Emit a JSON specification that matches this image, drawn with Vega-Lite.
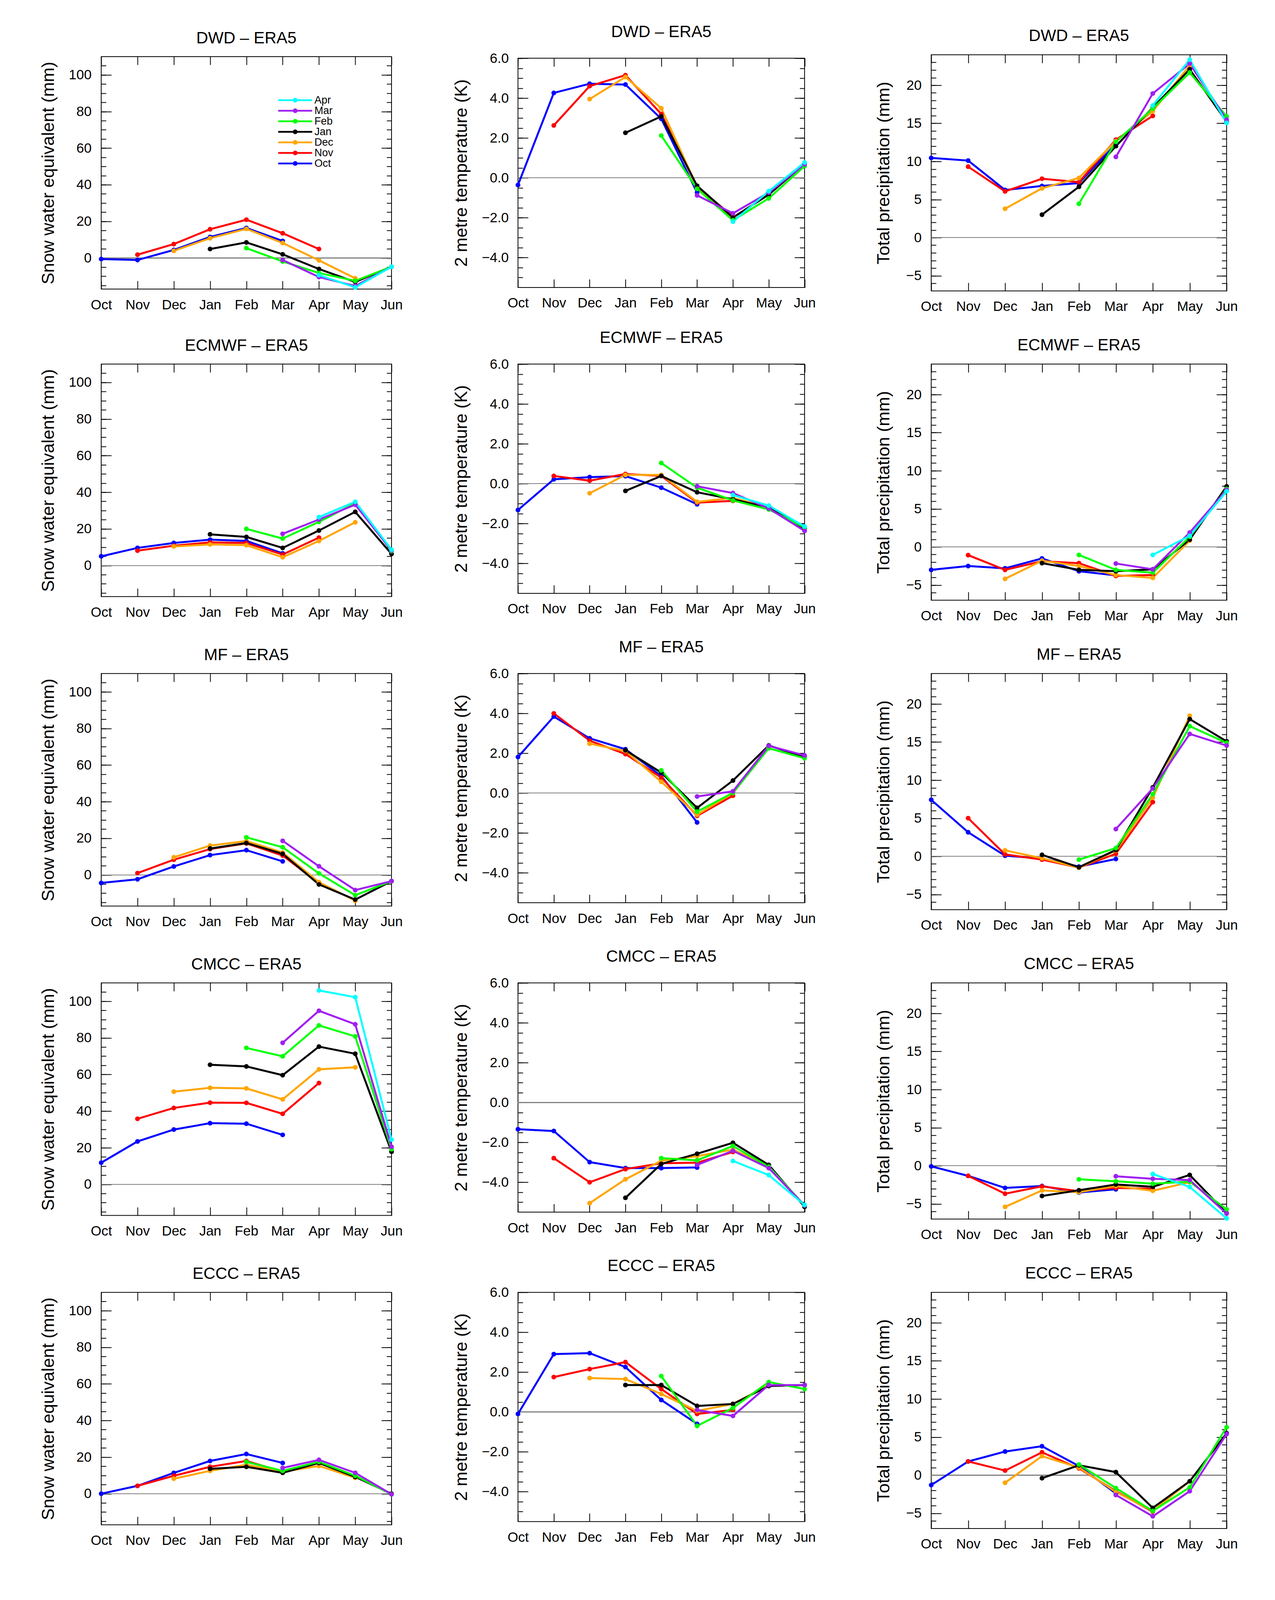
{
"$schema":"https://vega.github.io/schema/vega-lite/v6.json",
"background":"white",
"autosize":{"type":"pad"},
"padding":{"left":100,"top":59,"right":95,"bottom":44},
"columns":3,
"spacing":{"row":187.1,"column":323.6},
"bounds":"flush",
"align":"each",
"center":true,
"datasets":{
"DWD_swe":[{"l":"Oct","x":"Oct","y":-0.6},{"l":"Oct","x":"Nov","y":-1.1},{"l":"Oct","x":"Dec","y":4.4},{"l":"Oct","x":"Jan","y":11.5},{"l":"Oct","x":"Feb","y":16.4},{"l":"Oct","x":"Mar","y":9.3},{"l":"Nov","x":"Nov","y":1.8},{"l":"Nov","x":"Dec","y":7.6},{"l":"Nov","x":"Jan","y":15.7},{"l":"Nov","x":"Feb","y":20.9},{"l":"Nov","x":"Mar","y":13.5},{"l":"Nov","x":"Apr","y":4.9},{"l":"Dec","x":"Dec","y":3.9},{"l":"Dec","x":"Jan","y":10.8},{"l":"Dec","x":"Feb","y":15.9},{"l":"Dec","x":"Mar","y":8.2},{"l":"Dec","x":"Apr","y":-1.3},{"l":"Dec","x":"May","y":-11.1},{"l":"Jan","x":"Jan","y":4.9},{"l":"Jan","x":"Feb","y":8.5},{"l":"Jan","x":"Mar","y":2.0},{"l":"Jan","x":"Apr","y":-6.0},{"l":"Jan","x":"May","y":-13.1},{"l":"Jan","x":"Jun","y":-4.8},{"l":"Feb","x":"Feb","y":5.4},{"l":"Feb","x":"Mar","y":-1.9},{"l":"Feb","x":"Apr","y":-8.2},{"l":"Feb","x":"May","y":-12.5},{"l":"Feb","x":"Jun","y":-4.8},{"l":"Mar","x":"Mar","y":-1.1},{"l":"Mar","x":"Apr","y":-10.4},{"l":"Mar","x":"May","y":-15.3},{"l":"Mar","x":"Jun","y":-4.8},{"l":"Apr","x":"Apr","y":-9.4},{"l":"Apr","x":"May","y":-16.0},{"l":"Apr","x":"Jun","y":-4.8}],
"DWD_t2m":[{"l":"Oct","x":"Oct","y":-0.36},{"l":"Oct","x":"Nov","y":4.26},{"l":"Oct","x":"Dec","y":4.72},{"l":"Oct","x":"Jan","y":4.68},{"l":"Oct","x":"Feb","y":2.96},{"l":"Oct","x":"Mar","y":-0.74},{"l":"Nov","x":"Nov","y":2.63},{"l":"Nov","x":"Dec","y":4.6},{"l":"Nov","x":"Jan","y":5.15},{"l":"Nov","x":"Feb","y":3.2},{"l":"Nov","x":"Mar","y":-0.45},{"l":"Nov","x":"Apr","y":-1.94},{"l":"Dec","x":"Dec","y":3.95},{"l":"Dec","x":"Jan","y":5.06},{"l":"Dec","x":"Feb","y":3.49},{"l":"Dec","x":"Mar","y":-0.45},{"l":"Dec","x":"Apr","y":-1.99},{"l":"Dec","x":"May","y":-0.84},{"l":"Jan","x":"Jan","y":2.26},{"l":"Jan","x":"Feb","y":3.08},{"l":"Jan","x":"Mar","y":-0.4},{"l":"Jan","x":"Apr","y":-1.99},{"l":"Jan","x":"May","y":-0.84},{"l":"Jan","x":"Jun","y":0.7},{"l":"Feb","x":"Feb","y":2.12},{"l":"Feb","x":"Mar","y":-0.55},{"l":"Feb","x":"Apr","y":-2.13},{"l":"Feb","x":"May","y":-1.03},{"l":"Feb","x":"Jun","y":0.59},{"l":"Mar","x":"Mar","y":-0.88},{"l":"Mar","x":"Apr","y":-1.78},{"l":"Mar","x":"May","y":-0.74},{"l":"Mar","x":"Jun","y":0.68},{"l":"Apr","x":"Apr","y":-2.2},{"l":"Apr","x":"May","y":-0.67},{"l":"Apr","x":"Jun","y":0.77}],
"DWD_pr":[{"l":"Oct","x":"Oct","y":10.46},{"l":"Oct","x":"Nov","y":10.11},{"l":"Oct","x":"Dec","y":6.25},{"l":"Oct","x":"Jan","y":6.78},{"l":"Oct","x":"Feb","y":7.15},{"l":"Oct","x":"Mar","y":12.3},{"l":"Nov","x":"Nov","y":9.31},{"l":"Nov","x":"Dec","y":6.07},{"l":"Nov","x":"Jan","y":7.73},{"l":"Nov","x":"Feb","y":7.28},{"l":"Nov","x":"Mar","y":12.85},{"l":"Nov","x":"Apr","y":15.98},{"l":"Dec","x":"Dec","y":3.79},{"l":"Dec","x":"Jan","y":6.47},{"l":"Dec","x":"Feb","y":7.83},{"l":"Dec","x":"Mar","y":12.67},{"l":"Dec","x":"Apr","y":16.6},{"l":"Dec","x":"May","y":22.6},{"l":"Jan","x":"Jan","y":3.01},{"l":"Jan","x":"Feb","y":6.67},{"l":"Jan","x":"Mar","y":12.0},{"l":"Jan","x":"Apr","y":17.06},{"l":"Jan","x":"May","y":22.1},{"l":"Jan","x":"Jun","y":15.2},{"l":"Feb","x":"Feb","y":4.44},{"l":"Feb","x":"Mar","y":12.57},{"l":"Feb","x":"Apr","y":16.94},{"l":"Feb","x":"May","y":21.66},{"l":"Feb","x":"Jun","y":15.9},{"l":"Mar","x":"Mar","y":10.59},{"l":"Mar","x":"Apr","y":18.92},{"l":"Mar","x":"May","y":22.84},{"l":"Mar","x":"Jun","y":15.48},{"l":"Apr","x":"Apr","y":17.34},{"l":"Apr","x":"May","y":23.36},{"l":"Apr","x":"Jun","y":15.06}],
"ECMWF_swe":[{"l":"Oct","x":"Oct","y":5.0},{"l":"Oct","x":"Nov","y":9.6},{"l":"Oct","x":"Dec","y":12.3},{"l":"Oct","x":"Jan","y":14.1},{"l":"Oct","x":"Feb","y":13.4},{"l":"Oct","x":"Mar","y":6.6},{"l":"Nov","x":"Nov","y":8.1},{"l":"Nov","x":"Dec","y":10.8},{"l":"Nov","x":"Jan","y":12.6},{"l":"Nov","x":"Feb","y":12.3},{"l":"Nov","x":"Mar","y":6.0},{"l":"Nov","x":"Apr","y":15.2},{"l":"Dec","x":"Dec","y":10.4},{"l":"Dec","x":"Jan","y":11.5},{"l":"Dec","x":"Feb","y":11.1},{"l":"Dec","x":"Mar","y":4.5},{"l":"Dec","x":"Apr","y":13.4},{"l":"Dec","x":"May","y":23.6},{"l":"Jan","x":"Jan","y":17.0},{"l":"Jan","x":"Feb","y":15.6},{"l":"Jan","x":"Mar","y":9.6},{"l":"Jan","x":"Apr","y":19.1},{"l":"Jan","x":"May","y":29.3},{"l":"Jan","x":"Jun","y":6.3},{"l":"Feb","x":"Feb","y":20.0},{"l":"Feb","x":"Mar","y":14.7},{"l":"Feb","x":"Apr","y":23.8},{"l":"Feb","x":"May","y":34.0},{"l":"Feb","x":"Jun","y":7.9},{"l":"Mar","x":"Mar","y":17.3},{"l":"Mar","x":"Apr","y":25.1},{"l":"Mar","x":"May","y":33.2},{"l":"Mar","x":"Jun","y":8.2},{"l":"Apr","x":"Apr","y":26.4},{"l":"Apr","x":"May","y":34.8},{"l":"Apr","x":"Jun","y":8.6}],
"ECMWF_t2m":[{"l":"Oct","x":"Oct","y":-1.32},{"l":"Oct","x":"Nov","y":0.22},{"l":"Oct","x":"Dec","y":0.33},{"l":"Oct","x":"Jan","y":0.38},{"l":"Oct","x":"Feb","y":-0.2},{"l":"Oct","x":"Mar","y":-1.03},{"l":"Nov","x":"Nov","y":0.39},{"l":"Nov","x":"Dec","y":0.15},{"l":"Nov","x":"Jan","y":0.49},{"l":"Nov","x":"Feb","y":0.39},{"l":"Nov","x":"Mar","y":-0.95},{"l":"Nov","x":"Apr","y":-0.86},{"l":"Dec","x":"Dec","y":-0.48},{"l":"Dec","x":"Jan","y":0.44},{"l":"Dec","x":"Feb","y":0.44},{"l":"Dec","x":"Mar","y":-0.91},{"l":"Dec","x":"Apr","y":-0.71},{"l":"Dec","x":"May","y":-1.19},{"l":"Jan","x":"Jan","y":-0.36},{"l":"Jan","x":"Feb","y":0.39},{"l":"Jan","x":"Mar","y":-0.43},{"l":"Jan","x":"Apr","y":-0.78},{"l":"Jan","x":"May","y":-1.21},{"l":"Jan","x":"Jun","y":-2.25},{"l":"Feb","x":"Feb","y":1.04},{"l":"Feb","x":"Mar","y":-0.2},{"l":"Feb","x":"Apr","y":-0.84},{"l":"Feb","x":"May","y":-1.29},{"l":"Feb","x":"Jun","y":-2.2},{"l":"Mar","x":"Mar","y":-0.13},{"l":"Mar","x":"Apr","y":-0.47},{"l":"Mar","x":"May","y":-1.24},{"l":"Mar","x":"Jun","y":-2.37},{"l":"Apr","x":"Apr","y":-0.57},{"l":"Apr","x":"May","y":-1.1},{"l":"Apr","x":"Jun","y":-2.15}],
"ECMWF_pr":[{"l":"Oct","x":"Oct","y":-3.01},{"l":"Oct","x":"Nov","y":-2.51},{"l":"Oct","x":"Dec","y":-2.81},{"l":"Oct","x":"Jan","y":-1.51},{"l":"Oct","x":"Feb","y":-3.19},{"l":"Oct","x":"Mar","y":-3.74},{"l":"Nov","x":"Nov","y":-1.08},{"l":"Nov","x":"Dec","y":-3.01},{"l":"Nov","x":"Jan","y":-1.88},{"l":"Nov","x":"Feb","y":-2.13},{"l":"Nov","x":"Mar","y":-3.81},{"l":"Nov","x":"Apr","y":-3.69},{"l":"Dec","x":"Dec","y":-4.19},{"l":"Dec","x":"Jan","y":-1.81},{"l":"Dec","x":"Feb","y":-2.51},{"l":"Dec","x":"Mar","y":-3.69},{"l":"Dec","x":"Apr","y":-4.07},{"l":"Dec","x":"May","y":0.83},{"l":"Jan","x":"Jan","y":-2.13},{"l":"Jan","x":"Feb","y":-3.01},{"l":"Jan","x":"Mar","y":-3.19},{"l":"Jan","x":"Apr","y":-2.94},{"l":"Jan","x":"May","y":0.95},{"l":"Jan","x":"Jun","y":7.95},{"l":"Feb","x":"Feb","y":-1.05},{"l":"Feb","x":"Mar","y":-3.01},{"l":"Feb","x":"Apr","y":-3.39},{"l":"Feb","x":"May","y":1.33},{"l":"Feb","x":"Jun","y":7.6},{"l":"Mar","x":"Mar","y":-2.18},{"l":"Mar","x":"Apr","y":-2.94},{"l":"Mar","x":"May","y":1.88},{"l":"Mar","x":"Jun","y":7.48},{"l":"Apr","x":"Apr","y":-1.05},{"l":"Apr","x":"May","y":1.46},{"l":"Apr","x":"Jun","y":7.3}],
"MF_swe":[{"l":"Oct","x":"Oct","y":-4.4},{"l":"Oct","x":"Nov","y":-2.4},{"l":"Oct","x":"Dec","y":4.6},{"l":"Oct","x":"Jan","y":10.8},{"l":"Oct","x":"Feb","y":13.5},{"l":"Oct","x":"Mar","y":7.4},{"l":"Nov","x":"Nov","y":1.0},{"l":"Nov","x":"Dec","y":8.3},{"l":"Nov","x":"Jan","y":14.1},{"l":"Nov","x":"Feb","y":17.2},{"l":"Nov","x":"Mar","y":10.6},{"l":"Nov","x":"Apr","y":-4.6},{"l":"Dec","x":"Dec","y":9.6},{"l":"Dec","x":"Jan","y":16.0},{"l":"Dec","x":"Feb","y":18.5},{"l":"Dec","x":"Mar","y":12.2},{"l":"Dec","x":"Apr","y":-4.0},{"l":"Dec","x":"May","y":-14.1},{"l":"Jan","x":"Jan","y":14.4},{"l":"Jan","x":"Feb","y":17.4},{"l":"Jan","x":"Mar","y":11.5},{"l":"Jan","x":"Apr","y":-5.2},{"l":"Jan","x":"May","y":-13.5},{"l":"Jan","x":"Jun","y":-3.4},{"l":"Feb","x":"Feb","y":20.5},{"l":"Feb","x":"Mar","y":15.1},{"l":"Feb","x":"Apr","y":0.8},{"l":"Feb","x":"May","y":-11.1},{"l":"Feb","x":"Jun","y":-3.4},{"l":"Mar","x":"Mar","y":18.6},{"l":"Mar","x":"Apr","y":4.7},{"l":"Mar","x":"May","y":-8.3},{"l":"Mar","x":"Jun","y":-3.4}],
"MF_t2m":[{"l":"Oct","x":"Oct","y":1.81},{"l":"Oct","x":"Nov","y":3.84},{"l":"Oct","x":"Dec","y":2.75},{"l":"Oct","x":"Jan","y":2.2},{"l":"Oct","x":"Feb","y":0.86},{"l":"Oct","x":"Mar","y":-1.47},{"l":"Nov","x":"Nov","y":4.0},{"l":"Nov","x":"Dec","y":2.63},{"l":"Nov","x":"Jan","y":1.96},{"l":"Nov","x":"Feb","y":0.78},{"l":"Nov","x":"Mar","y":-1.14},{"l":"Nov","x":"Apr","y":-0.13},{"l":"Dec","x":"Dec","y":2.48},{"l":"Dec","x":"Jan","y":2.11},{"l":"Dec","x":"Feb","y":0.57},{"l":"Dec","x":"Mar","y":-1.09},{"l":"Dec","x":"Apr","y":0.0},{"l":"Dec","x":"May","y":2.3},{"l":"Jan","x":"Jan","y":2.15},{"l":"Jan","x":"Feb","y":1.03},{"l":"Jan","x":"Mar","y":-0.74},{"l":"Jan","x":"Apr","y":0.63},{"l":"Jan","x":"May","y":2.39},{"l":"Jan","x":"Jun","y":1.8},{"l":"Feb","x":"Feb","y":1.14},{"l":"Feb","x":"Mar","y":-0.93},{"l":"Feb","x":"Apr","y":0.01},{"l":"Feb","x":"May","y":2.25},{"l":"Feb","x":"Jun","y":1.75},{"l":"Mar","x":"Mar","y":-0.17},{"l":"Mar","x":"Apr","y":0.09},{"l":"Mar","x":"May","y":2.37},{"l":"Mar","x":"Jun","y":1.89}],
"MF_pr":[{"l":"Oct","x":"Oct","y":7.42},{"l":"Oct","x":"Nov","y":3.16},{"l":"Oct","x":"Dec","y":0.08},{"l":"Oct","x":"Jan","y":-0.28},{"l":"Oct","x":"Feb","y":-1.35},{"l":"Oct","x":"Mar","y":-0.35},{"l":"Nov","x":"Nov","y":5.01},{"l":"Nov","x":"Dec","y":0.25},{"l":"Nov","x":"Jan","y":-0.43},{"l":"Nov","x":"Feb","y":-1.48},{"l":"Nov","x":"Mar","y":0.33},{"l":"Nov","x":"Apr","y":7.12},{"l":"Dec","x":"Dec","y":0.78},{"l":"Dec","x":"Jan","y":-0.25},{"l":"Dec","x":"Feb","y":-1.5},{"l":"Dec","x":"Mar","y":0.75},{"l":"Dec","x":"Apr","y":7.69},{"l":"Dec","x":"May","y":18.45},{"l":"Jan","x":"Jan","y":0.2},{"l":"Jan","x":"Feb","y":-1.43},{"l":"Jan","x":"Mar","y":0.83},{"l":"Jan","x":"Apr","y":9.05},{"l":"Jan","x":"May","y":18.02},{"l":"Jan","x":"Jun","y":15.09},{"l":"Feb","x":"Feb","y":-0.43},{"l":"Feb","x":"Mar","y":1.08},{"l":"Feb","x":"Apr","y":8.15},{"l":"Feb","x":"May","y":17.09},{"l":"Feb","x":"Jun","y":14.9},{"l":"Mar","x":"Mar","y":3.58},{"l":"Mar","x":"Apr","y":8.92},{"l":"Mar","x":"May","y":16.07},{"l":"Mar","x":"Jun","y":14.54}],
"CMCC_swe":[{"l":"Oct","x":"Oct","y":11.8},{"l":"Oct","x":"Nov","y":23.4},{"l":"Oct","x":"Dec","y":29.9},{"l":"Oct","x":"Jan","y":33.4},{"l":"Oct","x":"Feb","y":33.1},{"l":"Oct","x":"Mar","y":27.0},{"l":"Nov","x":"Nov","y":35.8},{"l":"Nov","x":"Dec","y":41.7},{"l":"Nov","x":"Jan","y":44.6},{"l":"Nov","x":"Feb","y":44.5},{"l":"Nov","x":"Mar","y":38.5},{"l":"Nov","x":"Apr","y":55.3},{"l":"Dec","x":"Dec","y":50.6},{"l":"Dec","x":"Jan","y":52.7},{"l":"Dec","x":"Feb","y":52.4},{"l":"Dec","x":"Mar","y":46.4},{"l":"Dec","x":"Apr","y":62.8},{"l":"Dec","x":"May","y":63.9},{"l":"Jan","x":"Jan","y":65.3},{"l":"Jan","x":"Feb","y":64.4},{"l":"Jan","x":"Mar","y":59.6},{"l":"Jan","x":"Apr","y":75.2},{"l":"Jan","x":"May","y":71.3},{"l":"Jan","x":"Jun","y":17.8},{"l":"Feb","x":"Feb","y":74.5},{"l":"Feb","x":"Mar","y":69.9},{"l":"Feb","x":"Apr","y":86.8},{"l":"Feb","x":"May","y":80.8},{"l":"Feb","x":"Jun","y":19.2},{"l":"Mar","x":"Mar","y":77.3},{"l":"Mar","x":"Apr","y":94.8},{"l":"Mar","x":"May","y":87.4},{"l":"Mar","x":"Jun","y":20.5},{"l":"Apr","x":"Apr","y":105.9},{"l":"Apr","x":"May","y":102.2},{"l":"Apr","x":"Jun","y":24.4}],
"CMCC_t2m":[{"l":"Oct","x":"Oct","y":-1.34},{"l":"Oct","x":"Nov","y":-1.43},{"l":"Oct","x":"Dec","y":-2.99},{"l":"Oct","x":"Jan","y":-3.29},{"l":"Oct","x":"Feb","y":-3.29},{"l":"Oct","x":"Mar","y":-3.26},{"l":"Nov","x":"Nov","y":-2.79},{"l":"Nov","x":"Dec","y":-4.0},{"l":"Nov","x":"Jan","y":-3.34},{"l":"Nov","x":"Feb","y":-3.05},{"l":"Nov","x":"Mar","y":-3.02},{"l":"Nov","x":"Apr","y":-2.48},{"l":"Dec","x":"Dec","y":-5.05},{"l":"Dec","x":"Jan","y":-3.85},{"l":"Dec","x":"Feb","y":-2.92},{"l":"Dec","x":"Mar","y":-2.69},{"l":"Dec","x":"Apr","y":-2.36},{"l":"Dec","x":"May","y":-3.19},{"l":"Jan","x":"Jan","y":-4.78},{"l":"Jan","x":"Feb","y":-3.08},{"l":"Jan","x":"Mar","y":-2.57},{"l":"Jan","x":"Apr","y":-2.02},{"l":"Jan","x":"May","y":-3.13},{"l":"Jan","x":"Jun","y":-5.23},{"l":"Feb","x":"Feb","y":-2.79},{"l":"Feb","x":"Mar","y":-2.9},{"l":"Feb","x":"Apr","y":-2.18},{"l":"Feb","x":"May","y":-3.22},{"l":"Feb","x":"Jun","y":-5.16},{"l":"Mar","x":"Mar","y":-3.13},{"l":"Mar","x":"Apr","y":-2.42},{"l":"Mar","x":"May","y":-3.29},{"l":"Mar","x":"Jun","y":-5.16},{"l":"Apr","x":"Apr","y":-2.93},{"l":"Apr","x":"May","y":-3.64},{"l":"Apr","x":"Jun","y":-5.14}],
"CMCC_pr":[{"l":"Oct","x":"Oct","y":-0.08},{"l":"Oct","x":"Nov","y":-1.33},{"l":"Oct","x":"Dec","y":-2.91},{"l":"Oct","x":"Jan","y":-2.66},{"l":"Oct","x":"Feb","y":-3.52},{"l":"Oct","x":"Mar","y":-3.09},{"l":"Nov","x":"Nov","y":-1.33},{"l":"Nov","x":"Dec","y":-3.67},{"l":"Nov","x":"Jan","y":-2.71},{"l":"Nov","x":"Feb","y":-3.34},{"l":"Nov","x":"Mar","y":-2.91},{"l":"Nov","x":"Apr","y":-3.02},{"l":"Dec","x":"Dec","y":-5.4},{"l":"Dec","x":"Jan","y":-3.24},{"l":"Dec","x":"Feb","y":-3.47},{"l":"Dec","x":"Mar","y":-2.66},{"l":"Dec","x":"Apr","y":-3.29},{"l":"Dec","x":"May","y":-2.16},{"l":"Jan","x":"Jan","y":-3.97},{"l":"Jan","x":"Feb","y":-3.22},{"l":"Jan","x":"Mar","y":-2.46},{"l":"Jan","x":"Apr","y":-2.76},{"l":"Jan","x":"May","y":-1.21},{"l":"Jan","x":"Jun","y":-6.23},{"l":"Feb","x":"Feb","y":-1.78},{"l":"Feb","x":"Mar","y":-2.04},{"l":"Feb","x":"Apr","y":-2.36},{"l":"Feb","x":"May","y":-2.09},{"l":"Feb","x":"Jun","y":-5.73},{"l":"Mar","x":"Mar","y":-1.38},{"l":"Mar","x":"Apr","y":-1.71},{"l":"Mar","x":"May","y":-1.88},{"l":"Mar","x":"Jun","y":-6.28},{"l":"Apr","x":"Apr","y":-1.08},{"l":"Apr","x":"May","y":-2.79},{"l":"Apr","x":"Jun","y":-6.91}],
"ECCC_swe":[{"l":"Oct","x":"Oct","y":0.0},{"l":"Oct","x":"Nov","y":4.3},{"l":"Oct","x":"Dec","y":11.4},{"l":"Oct","x":"Jan","y":17.9},{"l":"Oct","x":"Feb","y":21.7},{"l":"Oct","x":"Mar","y":16.8},{"l":"Nov","x":"Nov","y":4.3},{"l":"Nov","x":"Dec","y":9.8},{"l":"Nov","x":"Jan","y":14.7},{"l":"Nov","x":"Feb","y":17.9},{"l":"Nov","x":"Mar","y":12.0},{"l":"Nov","x":"Apr","y":17.4},{"l":"Dec","x":"Dec","y":8.2},{"l":"Dec","x":"Jan","y":12.5},{"l":"Dec","x":"Feb","y":15.8},{"l":"Dec","x":"Mar","y":12.0},{"l":"Dec","x":"Apr","y":15.2},{"l":"Dec","x":"May","y":8.7},{"l":"Jan","x":"Jan","y":13.6},{"l":"Jan","x":"Feb","y":14.7},{"l":"Jan","x":"Mar","y":11.4},{"l":"Jan","x":"Apr","y":16.8},{"l":"Jan","x":"May","y":9.2},{"l":"Jan","x":"Jun","y":0.0},{"l":"Feb","x":"Feb","y":17.4},{"l":"Feb","x":"Mar","y":12.5},{"l":"Feb","x":"Apr","y":17.4},{"l":"Feb","x":"May","y":9.8},{"l":"Feb","x":"Jun","y":-0.3},{"l":"Mar","x":"Mar","y":14.1},{"l":"Mar","x":"Apr","y":18.5},{"l":"Mar","x":"May","y":11.4},{"l":"Mar","x":"Jun","y":-0.3}],
"ECCC_t2m":[{"l":"Oct","x":"Oct","y":-0.1},{"l":"Oct","x":"Nov","y":2.9},{"l":"Oct","x":"Dec","y":2.95},{"l":"Oct","x":"Jan","y":2.25},{"l":"Oct","x":"Feb","y":0.6},{"l":"Oct","x":"Mar","y":-0.6},{"l":"Nov","x":"Nov","y":1.75},{"l":"Nov","x":"Dec","y":2.15},{"l":"Nov","x":"Jan","y":2.5},{"l":"Nov","x":"Feb","y":1.15},{"l":"Nov","x":"Mar","y":-0.1},{"l":"Nov","x":"Apr","y":0.1},{"l":"Dec","x":"Dec","y":1.7},{"l":"Dec","x":"Jan","y":1.65},{"l":"Dec","x":"Feb","y":0.9},{"l":"Dec","x":"Mar","y":0.05},{"l":"Dec","x":"Apr","y":0.4},{"l":"Dec","x":"May","y":1.35},{"l":"Jan","x":"Jan","y":1.35},{"l":"Jan","x":"Feb","y":1.35},{"l":"Jan","x":"Mar","y":0.3},{"l":"Jan","x":"Apr","y":0.4},{"l":"Jan","x":"May","y":1.3},{"l":"Jan","x":"Jun","y":1.35},{"l":"Feb","x":"Feb","y":1.8},{"l":"Feb","x":"Mar","y":-0.7},{"l":"Feb","x":"Apr","y":0.2},{"l":"Feb","x":"May","y":1.5},{"l":"Feb","x":"Jun","y":1.15},{"l":"Mar","x":"Mar","y":0.1},{"l":"Mar","x":"Apr","y":-0.2},{"l":"Mar","x":"May","y":1.35},{"l":"Mar","x":"Jun","y":1.35}],
"ECCC_pr":[{"l":"Oct","x":"Oct","y":-1.3},{"l":"Oct","x":"Nov","y":1.8},{"l":"Oct","x":"Dec","y":3.1},{"l":"Oct","x":"Jan","y":3.8},{"l":"Oct","x":"Feb","y":1.2},{"l":"Oct","x":"Mar","y":-2.4},{"l":"Nov","x":"Nov","y":1.8},{"l":"Nov","x":"Dec","y":0.6},{"l":"Nov","x":"Jan","y":3.0},{"l":"Nov","x":"Feb","y":0.9},{"l":"Nov","x":"Mar","y":-2.1},{"l":"Nov","x":"Apr","y":-4.8},{"l":"Dec","x":"Dec","y":-1.0},{"l":"Dec","x":"Jan","y":2.5},{"l":"Dec","x":"Feb","y":1.0},{"l":"Dec","x":"Mar","y":-2.2},{"l":"Dec","x":"Apr","y":-4.7},{"l":"Dec","x":"May","y":-0.8},{"l":"Jan","x":"Jan","y":-0.4},{"l":"Jan","x":"Feb","y":1.3},{"l":"Jan","x":"Mar","y":0.4},{"l":"Jan","x":"Apr","y":-4.3},{"l":"Jan","x":"May","y":-0.8},{"l":"Jan","x":"Jun","y":5.5},{"l":"Feb","x":"Feb","y":1.4},{"l":"Feb","x":"Mar","y":-1.7},{"l":"Feb","x":"Apr","y":-4.7},{"l":"Feb","x":"May","y":-1.6},{"l":"Feb","x":"Jun","y":6.3},{"l":"Mar","x":"Mar","y":-2.6},{"l":"Mar","x":"Apr","y":-5.4},{"l":"Mar","x":"May","y":-2.1},{"l":"Mar","x":"Jun","y":5.4}]
},
"concat":[
{"width":743,"height":595.2,"data":{"name":"DWD_swe"},"title":{"text":"DWD – ERA5","offset":24.3},
"layer":[
{"mark":{"type":"rule","color":"#808080","strokeWidth":1.5},"encoding":{"y":{"datum":0,"type":"quantitative","axis":null}}},
{"mark":{"type":"point","opacity":0},"encoding":{"x":{"field":"x","type":"ordinal","sort":["Oct","Nov","Dec","Jan","Feb","Mar","Apr","May","Jun"],"axis":null},"y":{"field":"y","type":"quantitative","axis":{"orient":"left","values":[-15,-10,-5,0,5,10,15,20,25,30,35,40,45,50,55,60,65,70,75,80,85,90,95,100,105],"labels":false,"title":null,"tickSize":-12.5}}}},
{"mark":{"type":"point","opacity":0},"encoding":{"x":{"field":"x","type":"ordinal","sort":["Oct","Nov","Dec","Jan","Feb","Mar","Apr","May","Jun"],"axis":null},"y":{"field":"y","type":"quantitative","axis":{"orient":"right","values":[-15,-10,-5,0,5,10,15,20,25,30,35,40,45,50,55,60,65,70,75,80,85,90,95,100,105],"labels":false,"title":null,"tickSize":-12.5}}}},
{"mark":{"type":"line","strokeWidth":5},"encoding":{
"x":{"field":"x","type":"ordinal","sort":["Oct","Nov","Dec","Jan","Feb","Mar","Apr","May","Jun"],"scale":{"type":"point","padding":0,"domain":["Oct","Nov","Dec","Jan","Feb","Mar","Apr","May","Jun"]},"axis":{"orient":"bottom","title":null,"labelAngle":0,"labelAlign":"center","labelBaseline":"top","tickSize":-21,"labelPadding":44}},
"y":{"field":"y","type":"quantitative","scale":{"domain":[-17,110],"nice":false,"zero":false},"axis":{"orient":"left","values":[0,20,40,60,80,100],"format":"d","tickSize":-26,"labelPadding":51,"title":"Snow water equivalent (mm)","titleX":-112.6}},
"color":{"field":"l","type":"nominal","scale":{"domain":["Apr","Mar","Feb","Jan","Dec","Nov","Oct"],"range":["#00FFFF","#A020F0","#00FF00","#000000","#FFA500","#FF0000","#0000FF"]},
"legend":{"orient":"none","legendX":483,"legendY":103,"title":null,"symbolType":"M-4,-0.2L4,-0.2L4,0.2L-4,0.2Z M0.55,0A0.55,0.55 0 1,1 -0.55,0A0.55,0.55 0 1,1 0.55,0Z","symbolSize":473,"symbolStrokeWidth":0,"labelFontSize":27,"labelOffset":35.75,"rowPadding":-3.4,"encode":{"symbols":{"update":{"fill":{"scale":"color","field":"value"},"stroke":{"value":"transparent"}}}}}}}},
{"mark":{"type":"point","filled":true,"size":150,"opacity":1},"encoding":{
"x":{"field":"x","type":"ordinal","sort":["Oct","Nov","Dec","Jan","Feb","Mar","Apr","May","Jun"],"axis":{"orient":"top","title":null,"labels":false,"tickSize":-21}},
"y":{"field":"y","type":"quantitative","axis":{"orient":"right","values":[0,20,40,60,80,100],"labels":false,"title":null,"tickSize":-26}},
"color":{"field":"l","type":"nominal","scale":{"domain":["Apr","Mar","Feb","Jan","Dec","Nov","Oct"],"range":["#00FFFF","#A020F0","#00FF00","#000000","#FFA500","#FF0000","#0000FF"]}}}}
],"resolve":{"axis":{"x":"independent","y":"independent"}}},
{"width":733.5,"height":586.8,"data":{"name":"DWD_t2m"},"title":{"text":"DWD – ERA5","offset":28.5},
"layer":[
{"mark":{"type":"rule","color":"#808080","strokeWidth":1.5},"encoding":{"y":{"datum":0,"type":"quantitative","axis":null}}},
{"mark":{"type":"point","opacity":0},"encoding":{"x":{"field":"x","type":"ordinal","sort":["Oct","Nov","Dec","Jan","Feb","Mar","Apr","May","Jun"],"axis":null},"y":{"field":"y","type":"quantitative","axis":{"orient":"left","values":[-5,-4.5,-4,-3.5,-3,-2.5,-2,-1.5,-1,-0.5,0,0.5,1,1.5,2,2.5,3,3.5,4,4.5,5,5.5,6],"labels":false,"title":null,"tickSize":-12.5}}}},
{"mark":{"type":"point","opacity":0},"encoding":{"x":{"field":"x","type":"ordinal","sort":["Oct","Nov","Dec","Jan","Feb","Mar","Apr","May","Jun"],"axis":null},"y":{"field":"y","type":"quantitative","axis":{"orient":"right","values":[-5,-4.5,-4,-3.5,-3,-2.5,-2,-1.5,-1,-0.5,0,0.5,1,1.5,2,2.5,3,3.5,4,4.5,5,5.5,6],"labels":false,"title":null,"tickSize":-12.5}}}},
{"mark":{"type":"line","strokeWidth":5},"encoding":{
"x":{"field":"x","type":"ordinal","sort":["Oct","Nov","Dec","Jan","Feb","Mar","Apr","May","Jun"],"scale":{"type":"point","padding":0,"domain":["Oct","Nov","Dec","Jan","Feb","Mar","Apr","May","Jun"]},"axis":{"orient":"bottom","title":null,"labelAngle":0,"labelAlign":"center","labelBaseline":"top","tickSize":-21,"labelPadding":44}},
"y":{"field":"y","type":"quantitative","scale":{"domain":[-5.5,6],"nice":false,"zero":false},"axis":{"orient":"left","values":[-4,-2,0,2,4,6],"format":".1f","tickSize":-26,"labelPadding":50,"title":"2 metre temperature (K)","titleX":-122.5}},
"color":{"field":"l","type":"nominal","scale":{"domain":["Apr","Mar","Feb","Jan","Dec","Nov","Oct"],"range":["#00FFFF","#A020F0","#00FF00","#000000","#FFA500","#FF0000","#0000FF"]}}}},
{"mark":{"type":"point","filled":true,"size":150,"opacity":1},"encoding":{
"x":{"field":"x","type":"ordinal","sort":["Oct","Nov","Dec","Jan","Feb","Mar","Apr","May","Jun"],"axis":{"orient":"top","title":null,"labels":false,"tickSize":-21}},
"y":{"field":"y","type":"quantitative","axis":{"orient":"right","values":[-4,-2,0,2,4,6],"labels":false,"title":null,"tickSize":-26}},
"color":{"field":"l","type":"nominal","scale":{"domain":["Apr","Mar","Feb","Jan","Dec","Nov","Oct"],"range":["#00FFFF","#A020F0","#00FF00","#000000","#FFA500","#FF0000","#0000FF"]}}}}
],"resolve":{"axis":{"x":"independent","y":"independent"}}},
{"width":756,"height":604.5,"data":{"name":"DWD_pr"},"title":{"text":"DWD – ERA5","offset":25},
"layer":[
{"mark":{"type":"rule","color":"#808080","strokeWidth":1.5},"encoding":{"y":{"datum":0,"type":"quantitative","axis":null}}},
{"mark":{"type":"point","opacity":0},"encoding":{"x":{"field":"x","type":"ordinal","sort":["Oct","Nov","Dec","Jan","Feb","Mar","Apr","May","Jun"],"axis":null},"y":{"field":"y","type":"quantitative","axis":{"orient":"left","values":[-6,-5,-4,-3,-2,-1,0,1,2,3,4,5,6,7,8,9,10,11,12,13,14,15,16,17,18,19,20,21,22,23],"labels":false,"title":null,"tickSize":-12.5}}}},
{"mark":{"type":"point","opacity":0},"encoding":{"x":{"field":"x","type":"ordinal","sort":["Oct","Nov","Dec","Jan","Feb","Mar","Apr","May","Jun"],"axis":null},"y":{"field":"y","type":"quantitative","axis":{"orient":"right","values":[-6,-5,-4,-3,-2,-1,0,1,2,3,4,5,6,7,8,9,10,11,12,13,14,15,16,17,18,19,20,21,22,23],"labels":false,"title":null,"tickSize":-12.5}}}},
{"mark":{"type":"line","strokeWidth":5},"encoding":{
"x":{"field":"x","type":"ordinal","sort":["Oct","Nov","Dec","Jan","Feb","Mar","Apr","May","Jun"],"scale":{"type":"point","padding":0,"domain":["Oct","Nov","Dec","Jan","Feb","Mar","Apr","May","Jun"]},"axis":{"orient":"bottom","title":null,"labelAngle":0,"labelAlign":"center","labelBaseline":"top","tickSize":-21,"labelPadding":44}},
"y":{"field":"y","type":"quantitative","scale":{"domain":[-7,24],"nice":false,"zero":false},"axis":{"orient":"left","values":[-5,0,5,10,15,20],"format":"d","tickSize":-26,"labelPadding":51,"title":"Total precipitation (mm)","titleX":-98.8}},
"color":{"field":"l","type":"nominal","scale":{"domain":["Apr","Mar","Feb","Jan","Dec","Nov","Oct"],"range":["#00FFFF","#A020F0","#00FF00","#000000","#FFA500","#FF0000","#0000FF"]}}}},
{"mark":{"type":"point","filled":true,"size":150,"opacity":1},"encoding":{
"x":{"field":"x","type":"ordinal","sort":["Oct","Nov","Dec","Jan","Feb","Mar","Apr","May","Jun"],"axis":{"orient":"top","title":null,"labels":false,"tickSize":-21}},
"y":{"field":"y","type":"quantitative","axis":{"orient":"right","values":[-5,0,5,10,15,20],"labels":false,"title":null,"tickSize":-26}},
"color":{"field":"l","type":"nominal","scale":{"domain":["Apr","Mar","Feb","Jan","Dec","Nov","Oct"],"range":["#00FFFF","#A020F0","#00FF00","#000000","#FFA500","#FF0000","#0000FF"]}}}}
],"resolve":{"axis":{"x":"independent","y":"independent"}}},
{"width":743,"height":595.2,"data":{"name":"ECMWF_swe"},"title":{"text":"ECMWF – ERA5","offset":24.3},
"layer":[
{"mark":{"type":"rule","color":"#808080","strokeWidth":1.5},"encoding":{"y":{"datum":0,"type":"quantitative","axis":null}}},
{"mark":{"type":"point","opacity":0},"encoding":{"x":{"field":"x","type":"ordinal","sort":["Oct","Nov","Dec","Jan","Feb","Mar","Apr","May","Jun"],"axis":null},"y":{"field":"y","type":"quantitative","axis":{"orient":"left","values":[-15,-10,-5,0,5,10,15,20,25,30,35,40,45,50,55,60,65,70,75,80,85,90,95,100,105],"labels":false,"title":null,"tickSize":-12.5}}}},
{"mark":{"type":"point","opacity":0},"encoding":{"x":{"field":"x","type":"ordinal","sort":["Oct","Nov","Dec","Jan","Feb","Mar","Apr","May","Jun"],"axis":null},"y":{"field":"y","type":"quantitative","axis":{"orient":"right","values":[-15,-10,-5,0,5,10,15,20,25,30,35,40,45,50,55,60,65,70,75,80,85,90,95,100,105],"labels":false,"title":null,"tickSize":-12.5}}}},
{"mark":{"type":"line","strokeWidth":5},"encoding":{
"x":{"field":"x","type":"ordinal","sort":["Oct","Nov","Dec","Jan","Feb","Mar","Apr","May","Jun"],"scale":{"type":"point","padding":0,"domain":["Oct","Nov","Dec","Jan","Feb","Mar","Apr","May","Jun"]},"axis":{"orient":"bottom","title":null,"labelAngle":0,"labelAlign":"center","labelBaseline":"top","tickSize":-21,"labelPadding":44}},
"y":{"field":"y","type":"quantitative","scale":{"domain":[-17,110],"nice":false,"zero":false},"axis":{"orient":"left","values":[0,20,40,60,80,100],"format":"d","tickSize":-26,"labelPadding":51,"title":"Snow water equivalent (mm)","titleX":-112.6}},
"color":{"field":"l","type":"nominal","scale":{"domain":["Apr","Mar","Feb","Jan","Dec","Nov","Oct"],"range":["#00FFFF","#A020F0","#00FF00","#000000","#FFA500","#FF0000","#0000FF"]}}}},
{"mark":{"type":"point","filled":true,"size":150,"opacity":1},"encoding":{
"x":{"field":"x","type":"ordinal","sort":["Oct","Nov","Dec","Jan","Feb","Mar","Apr","May","Jun"],"axis":{"orient":"top","title":null,"labels":false,"tickSize":-21}},
"y":{"field":"y","type":"quantitative","axis":{"orient":"right","values":[0,20,40,60,80,100],"labels":false,"title":null,"tickSize":-26}},
"color":{"field":"l","type":"nominal","scale":{"domain":["Apr","Mar","Feb","Jan","Dec","Nov","Oct"],"range":["#00FFFF","#A020F0","#00FF00","#000000","#FFA500","#FF0000","#0000FF"]}}}}
],"resolve":{"axis":{"x":"independent","y":"independent"}}},
{"width":733.5,"height":586.8,"data":{"name":"ECMWF_t2m"},"title":{"text":"ECMWF – ERA5","offset":28.5},
"layer":[
{"mark":{"type":"rule","color":"#808080","strokeWidth":1.5},"encoding":{"y":{"datum":0,"type":"quantitative","axis":null}}},
{"mark":{"type":"point","opacity":0},"encoding":{"x":{"field":"x","type":"ordinal","sort":["Oct","Nov","Dec","Jan","Feb","Mar","Apr","May","Jun"],"axis":null},"y":{"field":"y","type":"quantitative","axis":{"orient":"left","values":[-5,-4.5,-4,-3.5,-3,-2.5,-2,-1.5,-1,-0.5,0,0.5,1,1.5,2,2.5,3,3.5,4,4.5,5,5.5,6],"labels":false,"title":null,"tickSize":-12.5}}}},
{"mark":{"type":"point","opacity":0},"encoding":{"x":{"field":"x","type":"ordinal","sort":["Oct","Nov","Dec","Jan","Feb","Mar","Apr","May","Jun"],"axis":null},"y":{"field":"y","type":"quantitative","axis":{"orient":"right","values":[-5,-4.5,-4,-3.5,-3,-2.5,-2,-1.5,-1,-0.5,0,0.5,1,1.5,2,2.5,3,3.5,4,4.5,5,5.5,6],"labels":false,"title":null,"tickSize":-12.5}}}},
{"mark":{"type":"line","strokeWidth":5},"encoding":{
"x":{"field":"x","type":"ordinal","sort":["Oct","Nov","Dec","Jan","Feb","Mar","Apr","May","Jun"],"scale":{"type":"point","padding":0,"domain":["Oct","Nov","Dec","Jan","Feb","Mar","Apr","May","Jun"]},"axis":{"orient":"bottom","title":null,"labelAngle":0,"labelAlign":"center","labelBaseline":"top","tickSize":-21,"labelPadding":44}},
"y":{"field":"y","type":"quantitative","scale":{"domain":[-5.5,6],"nice":false,"zero":false},"axis":{"orient":"left","values":[-4,-2,0,2,4,6],"format":".1f","tickSize":-26,"labelPadding":50,"title":"2 metre temperature (K)","titleX":-122.5}},
"color":{"field":"l","type":"nominal","scale":{"domain":["Apr","Mar","Feb","Jan","Dec","Nov","Oct"],"range":["#00FFFF","#A020F0","#00FF00","#000000","#FFA500","#FF0000","#0000FF"]}}}},
{"mark":{"type":"point","filled":true,"size":150,"opacity":1},"encoding":{
"x":{"field":"x","type":"ordinal","sort":["Oct","Nov","Dec","Jan","Feb","Mar","Apr","May","Jun"],"axis":{"orient":"top","title":null,"labels":false,"tickSize":-21}},
"y":{"field":"y","type":"quantitative","axis":{"orient":"right","values":[-4,-2,0,2,4,6],"labels":false,"title":null,"tickSize":-26}},
"color":{"field":"l","type":"nominal","scale":{"domain":["Apr","Mar","Feb","Jan","Dec","Nov","Oct"],"range":["#00FFFF","#A020F0","#00FF00","#000000","#FFA500","#FF0000","#0000FF"]}}}}
],"resolve":{"axis":{"x":"independent","y":"independent"}}},
{"width":756,"height":604.5,"data":{"name":"ECMWF_pr"},"title":{"text":"ECMWF – ERA5","offset":25},
"layer":[
{"mark":{"type":"rule","color":"#808080","strokeWidth":1.5},"encoding":{"y":{"datum":0,"type":"quantitative","axis":null}}},
{"mark":{"type":"point","opacity":0},"encoding":{"x":{"field":"x","type":"ordinal","sort":["Oct","Nov","Dec","Jan","Feb","Mar","Apr","May","Jun"],"axis":null},"y":{"field":"y","type":"quantitative","axis":{"orient":"left","values":[-6,-5,-4,-3,-2,-1,0,1,2,3,4,5,6,7,8,9,10,11,12,13,14,15,16,17,18,19,20,21,22,23],"labels":false,"title":null,"tickSize":-12.5}}}},
{"mark":{"type":"point","opacity":0},"encoding":{"x":{"field":"x","type":"ordinal","sort":["Oct","Nov","Dec","Jan","Feb","Mar","Apr","May","Jun"],"axis":null},"y":{"field":"y","type":"quantitative","axis":{"orient":"right","values":[-6,-5,-4,-3,-2,-1,0,1,2,3,4,5,6,7,8,9,10,11,12,13,14,15,16,17,18,19,20,21,22,23],"labels":false,"title":null,"tickSize":-12.5}}}},
{"mark":{"type":"line","strokeWidth":5},"encoding":{
"x":{"field":"x","type":"ordinal","sort":["Oct","Nov","Dec","Jan","Feb","Mar","Apr","May","Jun"],"scale":{"type":"point","padding":0,"domain":["Oct","Nov","Dec","Jan","Feb","Mar","Apr","May","Jun"]},"axis":{"orient":"bottom","title":null,"labelAngle":0,"labelAlign":"center","labelBaseline":"top","tickSize":-21,"labelPadding":44}},
"y":{"field":"y","type":"quantitative","scale":{"domain":[-7,24],"nice":false,"zero":false},"axis":{"orient":"left","values":[-5,0,5,10,15,20],"format":"d","tickSize":-26,"labelPadding":51,"title":"Total precipitation (mm)","titleX":-98.8}},
"color":{"field":"l","type":"nominal","scale":{"domain":["Apr","Mar","Feb","Jan","Dec","Nov","Oct"],"range":["#00FFFF","#A020F0","#00FF00","#000000","#FFA500","#FF0000","#0000FF"]}}}},
{"mark":{"type":"point","filled":true,"size":150,"opacity":1},"encoding":{
"x":{"field":"x","type":"ordinal","sort":["Oct","Nov","Dec","Jan","Feb","Mar","Apr","May","Jun"],"axis":{"orient":"top","title":null,"labels":false,"tickSize":-21}},
"y":{"field":"y","type":"quantitative","axis":{"orient":"right","values":[-5,0,5,10,15,20],"labels":false,"title":null,"tickSize":-26}},
"color":{"field":"l","type":"nominal","scale":{"domain":["Apr","Mar","Feb","Jan","Dec","Nov","Oct"],"range":["#00FFFF","#A020F0","#00FF00","#000000","#FFA500","#FF0000","#0000FF"]}}}}
],"resolve":{"axis":{"x":"independent","y":"independent"}}},
{"width":743,"height":595.2,"data":{"name":"MF_swe"},"title":{"text":"MF – ERA5","offset":24.3},
"layer":[
{"mark":{"type":"rule","color":"#808080","strokeWidth":1.5},"encoding":{"y":{"datum":0,"type":"quantitative","axis":null}}},
{"mark":{"type":"point","opacity":0},"encoding":{"x":{"field":"x","type":"ordinal","sort":["Oct","Nov","Dec","Jan","Feb","Mar","Apr","May","Jun"],"axis":null},"y":{"field":"y","type":"quantitative","axis":{"orient":"left","values":[-15,-10,-5,0,5,10,15,20,25,30,35,40,45,50,55,60,65,70,75,80,85,90,95,100,105],"labels":false,"title":null,"tickSize":-12.5}}}},
{"mark":{"type":"point","opacity":0},"encoding":{"x":{"field":"x","type":"ordinal","sort":["Oct","Nov","Dec","Jan","Feb","Mar","Apr","May","Jun"],"axis":null},"y":{"field":"y","type":"quantitative","axis":{"orient":"right","values":[-15,-10,-5,0,5,10,15,20,25,30,35,40,45,50,55,60,65,70,75,80,85,90,95,100,105],"labels":false,"title":null,"tickSize":-12.5}}}},
{"mark":{"type":"line","strokeWidth":5},"encoding":{
"x":{"field":"x","type":"ordinal","sort":["Oct","Nov","Dec","Jan","Feb","Mar","Apr","May","Jun"],"scale":{"type":"point","padding":0,"domain":["Oct","Nov","Dec","Jan","Feb","Mar","Apr","May","Jun"]},"axis":{"orient":"bottom","title":null,"labelAngle":0,"labelAlign":"center","labelBaseline":"top","tickSize":-21,"labelPadding":44}},
"y":{"field":"y","type":"quantitative","scale":{"domain":[-17,110],"nice":false,"zero":false},"axis":{"orient":"left","values":[0,20,40,60,80,100],"format":"d","tickSize":-26,"labelPadding":51,"title":"Snow water equivalent (mm)","titleX":-112.6}},
"color":{"field":"l","type":"nominal","scale":{"domain":["Apr","Mar","Feb","Jan","Dec","Nov","Oct"],"range":["#00FFFF","#A020F0","#00FF00","#000000","#FFA500","#FF0000","#0000FF"]}}}},
{"mark":{"type":"point","filled":true,"size":150,"opacity":1},"encoding":{
"x":{"field":"x","type":"ordinal","sort":["Oct","Nov","Dec","Jan","Feb","Mar","Apr","May","Jun"],"axis":{"orient":"top","title":null,"labels":false,"tickSize":-21}},
"y":{"field":"y","type":"quantitative","axis":{"orient":"right","values":[0,20,40,60,80,100],"labels":false,"title":null,"tickSize":-26}},
"color":{"field":"l","type":"nominal","scale":{"domain":["Apr","Mar","Feb","Jan","Dec","Nov","Oct"],"range":["#00FFFF","#A020F0","#00FF00","#000000","#FFA500","#FF0000","#0000FF"]}}}}
],"resolve":{"axis":{"x":"independent","y":"independent"}}},
{"width":733.5,"height":586.8,"data":{"name":"MF_t2m"},"title":{"text":"MF – ERA5","offset":28.5},
"layer":[
{"mark":{"type":"rule","color":"#808080","strokeWidth":1.5},"encoding":{"y":{"datum":0,"type":"quantitative","axis":null}}},
{"mark":{"type":"point","opacity":0},"encoding":{"x":{"field":"x","type":"ordinal","sort":["Oct","Nov","Dec","Jan","Feb","Mar","Apr","May","Jun"],"axis":null},"y":{"field":"y","type":"quantitative","axis":{"orient":"left","values":[-5,-4.5,-4,-3.5,-3,-2.5,-2,-1.5,-1,-0.5,0,0.5,1,1.5,2,2.5,3,3.5,4,4.5,5,5.5,6],"labels":false,"title":null,"tickSize":-12.5}}}},
{"mark":{"type":"point","opacity":0},"encoding":{"x":{"field":"x","type":"ordinal","sort":["Oct","Nov","Dec","Jan","Feb","Mar","Apr","May","Jun"],"axis":null},"y":{"field":"y","type":"quantitative","axis":{"orient":"right","values":[-5,-4.5,-4,-3.5,-3,-2.5,-2,-1.5,-1,-0.5,0,0.5,1,1.5,2,2.5,3,3.5,4,4.5,5,5.5,6],"labels":false,"title":null,"tickSize":-12.5}}}},
{"mark":{"type":"line","strokeWidth":5},"encoding":{
"x":{"field":"x","type":"ordinal","sort":["Oct","Nov","Dec","Jan","Feb","Mar","Apr","May","Jun"],"scale":{"type":"point","padding":0,"domain":["Oct","Nov","Dec","Jan","Feb","Mar","Apr","May","Jun"]},"axis":{"orient":"bottom","title":null,"labelAngle":0,"labelAlign":"center","labelBaseline":"top","tickSize":-21,"labelPadding":44}},
"y":{"field":"y","type":"quantitative","scale":{"domain":[-5.5,6],"nice":false,"zero":false},"axis":{"orient":"left","values":[-4,-2,0,2,4,6],"format":".1f","tickSize":-26,"labelPadding":50,"title":"2 metre temperature (K)","titleX":-122.5}},
"color":{"field":"l","type":"nominal","scale":{"domain":["Apr","Mar","Feb","Jan","Dec","Nov","Oct"],"range":["#00FFFF","#A020F0","#00FF00","#000000","#FFA500","#FF0000","#0000FF"]}}}},
{"mark":{"type":"point","filled":true,"size":150,"opacity":1},"encoding":{
"x":{"field":"x","type":"ordinal","sort":["Oct","Nov","Dec","Jan","Feb","Mar","Apr","May","Jun"],"axis":{"orient":"top","title":null,"labels":false,"tickSize":-21}},
"y":{"field":"y","type":"quantitative","axis":{"orient":"right","values":[-4,-2,0,2,4,6],"labels":false,"title":null,"tickSize":-26}},
"color":{"field":"l","type":"nominal","scale":{"domain":["Apr","Mar","Feb","Jan","Dec","Nov","Oct"],"range":["#00FFFF","#A020F0","#00FF00","#000000","#FFA500","#FF0000","#0000FF"]}}}}
],"resolve":{"axis":{"x":"independent","y":"independent"}}},
{"width":756,"height":604.5,"data":{"name":"MF_pr"},"title":{"text":"MF – ERA5","offset":25},
"layer":[
{"mark":{"type":"rule","color":"#808080","strokeWidth":1.5},"encoding":{"y":{"datum":0,"type":"quantitative","axis":null}}},
{"mark":{"type":"point","opacity":0},"encoding":{"x":{"field":"x","type":"ordinal","sort":["Oct","Nov","Dec","Jan","Feb","Mar","Apr","May","Jun"],"axis":null},"y":{"field":"y","type":"quantitative","axis":{"orient":"left","values":[-6,-5,-4,-3,-2,-1,0,1,2,3,4,5,6,7,8,9,10,11,12,13,14,15,16,17,18,19,20,21,22,23],"labels":false,"title":null,"tickSize":-12.5}}}},
{"mark":{"type":"point","opacity":0},"encoding":{"x":{"field":"x","type":"ordinal","sort":["Oct","Nov","Dec","Jan","Feb","Mar","Apr","May","Jun"],"axis":null},"y":{"field":"y","type":"quantitative","axis":{"orient":"right","values":[-6,-5,-4,-3,-2,-1,0,1,2,3,4,5,6,7,8,9,10,11,12,13,14,15,16,17,18,19,20,21,22,23],"labels":false,"title":null,"tickSize":-12.5}}}},
{"mark":{"type":"line","strokeWidth":5},"encoding":{
"x":{"field":"x","type":"ordinal","sort":["Oct","Nov","Dec","Jan","Feb","Mar","Apr","May","Jun"],"scale":{"type":"point","padding":0,"domain":["Oct","Nov","Dec","Jan","Feb","Mar","Apr","May","Jun"]},"axis":{"orient":"bottom","title":null,"labelAngle":0,"labelAlign":"center","labelBaseline":"top","tickSize":-21,"labelPadding":44}},
"y":{"field":"y","type":"quantitative","scale":{"domain":[-7,24],"nice":false,"zero":false},"axis":{"orient":"left","values":[-5,0,5,10,15,20],"format":"d","tickSize":-26,"labelPadding":51,"title":"Total precipitation (mm)","titleX":-98.8}},
"color":{"field":"l","type":"nominal","scale":{"domain":["Apr","Mar","Feb","Jan","Dec","Nov","Oct"],"range":["#00FFFF","#A020F0","#00FF00","#000000","#FFA500","#FF0000","#0000FF"]}}}},
{"mark":{"type":"point","filled":true,"size":150,"opacity":1},"encoding":{
"x":{"field":"x","type":"ordinal","sort":["Oct","Nov","Dec","Jan","Feb","Mar","Apr","May","Jun"],"axis":{"orient":"top","title":null,"labels":false,"tickSize":-21}},
"y":{"field":"y","type":"quantitative","axis":{"orient":"right","values":[-5,0,5,10,15,20],"labels":false,"title":null,"tickSize":-26}},
"color":{"field":"l","type":"nominal","scale":{"domain":["Apr","Mar","Feb","Jan","Dec","Nov","Oct"],"range":["#00FFFF","#A020F0","#00FF00","#000000","#FFA500","#FF0000","#0000FF"]}}}}
],"resolve":{"axis":{"x":"independent","y":"independent"}}},
{"width":743,"height":595.2,"data":{"name":"CMCC_swe"},"title":{"text":"CMCC – ERA5","offset":24.3},
"layer":[
{"mark":{"type":"rule","color":"#808080","strokeWidth":1.5},"encoding":{"y":{"datum":0,"type":"quantitative","axis":null}}},
{"mark":{"type":"point","opacity":0},"encoding":{"x":{"field":"x","type":"ordinal","sort":["Oct","Nov","Dec","Jan","Feb","Mar","Apr","May","Jun"],"axis":null},"y":{"field":"y","type":"quantitative","axis":{"orient":"left","values":[-15,-10,-5,0,5,10,15,20,25,30,35,40,45,50,55,60,65,70,75,80,85,90,95,100,105],"labels":false,"title":null,"tickSize":-12.5}}}},
{"mark":{"type":"point","opacity":0},"encoding":{"x":{"field":"x","type":"ordinal","sort":["Oct","Nov","Dec","Jan","Feb","Mar","Apr","May","Jun"],"axis":null},"y":{"field":"y","type":"quantitative","axis":{"orient":"right","values":[-15,-10,-5,0,5,10,15,20,25,30,35,40,45,50,55,60,65,70,75,80,85,90,95,100,105],"labels":false,"title":null,"tickSize":-12.5}}}},
{"mark":{"type":"line","strokeWidth":5},"encoding":{
"x":{"field":"x","type":"ordinal","sort":["Oct","Nov","Dec","Jan","Feb","Mar","Apr","May","Jun"],"scale":{"type":"point","padding":0,"domain":["Oct","Nov","Dec","Jan","Feb","Mar","Apr","May","Jun"]},"axis":{"orient":"bottom","title":null,"labelAngle":0,"labelAlign":"center","labelBaseline":"top","tickSize":-21,"labelPadding":44}},
"y":{"field":"y","type":"quantitative","scale":{"domain":[-17,110],"nice":false,"zero":false},"axis":{"orient":"left","values":[0,20,40,60,80,100],"format":"d","tickSize":-26,"labelPadding":51,"title":"Snow water equivalent (mm)","titleX":-112.6}},
"color":{"field":"l","type":"nominal","scale":{"domain":["Apr","Mar","Feb","Jan","Dec","Nov","Oct"],"range":["#00FFFF","#A020F0","#00FF00","#000000","#FFA500","#FF0000","#0000FF"]}}}},
{"mark":{"type":"point","filled":true,"size":150,"opacity":1},"encoding":{
"x":{"field":"x","type":"ordinal","sort":["Oct","Nov","Dec","Jan","Feb","Mar","Apr","May","Jun"],"axis":{"orient":"top","title":null,"labels":false,"tickSize":-21}},
"y":{"field":"y","type":"quantitative","axis":{"orient":"right","values":[0,20,40,60,80,100],"labels":false,"title":null,"tickSize":-26}},
"color":{"field":"l","type":"nominal","scale":{"domain":["Apr","Mar","Feb","Jan","Dec","Nov","Oct"],"range":["#00FFFF","#A020F0","#00FF00","#000000","#FFA500","#FF0000","#0000FF"]}}}}
],"resolve":{"axis":{"x":"independent","y":"independent"}}},
{"width":733.5,"height":586.8,"data":{"name":"CMCC_t2m"},"title":{"text":"CMCC – ERA5","offset":28.5},
"layer":[
{"mark":{"type":"rule","color":"#808080","strokeWidth":1.5},"encoding":{"y":{"datum":0,"type":"quantitative","axis":null}}},
{"mark":{"type":"point","opacity":0},"encoding":{"x":{"field":"x","type":"ordinal","sort":["Oct","Nov","Dec","Jan","Feb","Mar","Apr","May","Jun"],"axis":null},"y":{"field":"y","type":"quantitative","axis":{"orient":"left","values":[-5,-4.5,-4,-3.5,-3,-2.5,-2,-1.5,-1,-0.5,0,0.5,1,1.5,2,2.5,3,3.5,4,4.5,5,5.5,6],"labels":false,"title":null,"tickSize":-12.5}}}},
{"mark":{"type":"point","opacity":0},"encoding":{"x":{"field":"x","type":"ordinal","sort":["Oct","Nov","Dec","Jan","Feb","Mar","Apr","May","Jun"],"axis":null},"y":{"field":"y","type":"quantitative","axis":{"orient":"right","values":[-5,-4.5,-4,-3.5,-3,-2.5,-2,-1.5,-1,-0.5,0,0.5,1,1.5,2,2.5,3,3.5,4,4.5,5,5.5,6],"labels":false,"title":null,"tickSize":-12.5}}}},
{"mark":{"type":"line","strokeWidth":5},"encoding":{
"x":{"field":"x","type":"ordinal","sort":["Oct","Nov","Dec","Jan","Feb","Mar","Apr","May","Jun"],"scale":{"type":"point","padding":0,"domain":["Oct","Nov","Dec","Jan","Feb","Mar","Apr","May","Jun"]},"axis":{"orient":"bottom","title":null,"labelAngle":0,"labelAlign":"center","labelBaseline":"top","tickSize":-21,"labelPadding":44}},
"y":{"field":"y","type":"quantitative","scale":{"domain":[-5.5,6],"nice":false,"zero":false},"axis":{"orient":"left","values":[-4,-2,0,2,4,6],"format":".1f","tickSize":-26,"labelPadding":50,"title":"2 metre temperature (K)","titleX":-122.5}},
"color":{"field":"l","type":"nominal","scale":{"domain":["Apr","Mar","Feb","Jan","Dec","Nov","Oct"],"range":["#00FFFF","#A020F0","#00FF00","#000000","#FFA500","#FF0000","#0000FF"]}}}},
{"mark":{"type":"point","filled":true,"size":150,"opacity":1},"encoding":{
"x":{"field":"x","type":"ordinal","sort":["Oct","Nov","Dec","Jan","Feb","Mar","Apr","May","Jun"],"axis":{"orient":"top","title":null,"labels":false,"tickSize":-21}},
"y":{"field":"y","type":"quantitative","axis":{"orient":"right","values":[-4,-2,0,2,4,6],"labels":false,"title":null,"tickSize":-26}},
"color":{"field":"l","type":"nominal","scale":{"domain":["Apr","Mar","Feb","Jan","Dec","Nov","Oct"],"range":["#00FFFF","#A020F0","#00FF00","#000000","#FFA500","#FF0000","#0000FF"]}}}}
],"resolve":{"axis":{"x":"independent","y":"independent"}}},
{"width":756,"height":604.5,"data":{"name":"CMCC_pr"},"title":{"text":"CMCC – ERA5","offset":25},
"layer":[
{"mark":{"type":"rule","color":"#808080","strokeWidth":1.5},"encoding":{"y":{"datum":0,"type":"quantitative","axis":null}}},
{"mark":{"type":"point","opacity":0},"encoding":{"x":{"field":"x","type":"ordinal","sort":["Oct","Nov","Dec","Jan","Feb","Mar","Apr","May","Jun"],"axis":null},"y":{"field":"y","type":"quantitative","axis":{"orient":"left","values":[-6,-5,-4,-3,-2,-1,0,1,2,3,4,5,6,7,8,9,10,11,12,13,14,15,16,17,18,19,20,21,22,23],"labels":false,"title":null,"tickSize":-12.5}}}},
{"mark":{"type":"point","opacity":0},"encoding":{"x":{"field":"x","type":"ordinal","sort":["Oct","Nov","Dec","Jan","Feb","Mar","Apr","May","Jun"],"axis":null},"y":{"field":"y","type":"quantitative","axis":{"orient":"right","values":[-6,-5,-4,-3,-2,-1,0,1,2,3,4,5,6,7,8,9,10,11,12,13,14,15,16,17,18,19,20,21,22,23],"labels":false,"title":null,"tickSize":-12.5}}}},
{"mark":{"type":"line","strokeWidth":5},"encoding":{
"x":{"field":"x","type":"ordinal","sort":["Oct","Nov","Dec","Jan","Feb","Mar","Apr","May","Jun"],"scale":{"type":"point","padding":0,"domain":["Oct","Nov","Dec","Jan","Feb","Mar","Apr","May","Jun"]},"axis":{"orient":"bottom","title":null,"labelAngle":0,"labelAlign":"center","labelBaseline":"top","tickSize":-21,"labelPadding":44}},
"y":{"field":"y","type":"quantitative","scale":{"domain":[-7,24],"nice":false,"zero":false},"axis":{"orient":"left","values":[-5,0,5,10,15,20],"format":"d","tickSize":-26,"labelPadding":51,"title":"Total precipitation (mm)","titleX":-98.8}},
"color":{"field":"l","type":"nominal","scale":{"domain":["Apr","Mar","Feb","Jan","Dec","Nov","Oct"],"range":["#00FFFF","#A020F0","#00FF00","#000000","#FFA500","#FF0000","#0000FF"]}}}},
{"mark":{"type":"point","filled":true,"size":150,"opacity":1},"encoding":{
"x":{"field":"x","type":"ordinal","sort":["Oct","Nov","Dec","Jan","Feb","Mar","Apr","May","Jun"],"axis":{"orient":"top","title":null,"labels":false,"tickSize":-21}},
"y":{"field":"y","type":"quantitative","axis":{"orient":"right","values":[-5,0,5,10,15,20],"labels":false,"title":null,"tickSize":-26}},
"color":{"field":"l","type":"nominal","scale":{"domain":["Apr","Mar","Feb","Jan","Dec","Nov","Oct"],"range":["#00FFFF","#A020F0","#00FF00","#000000","#FFA500","#FF0000","#0000FF"]}}}}
],"resolve":{"axis":{"x":"independent","y":"independent"}}},
{"width":743,"height":595.2,"data":{"name":"ECCC_swe"},"title":{"text":"ECCC – ERA5","offset":24.3},
"layer":[
{"mark":{"type":"rule","color":"#808080","strokeWidth":1.5},"encoding":{"y":{"datum":0,"type":"quantitative","axis":null}}},
{"mark":{"type":"point","opacity":0},"encoding":{"x":{"field":"x","type":"ordinal","sort":["Oct","Nov","Dec","Jan","Feb","Mar","Apr","May","Jun"],"axis":null},"y":{"field":"y","type":"quantitative","axis":{"orient":"left","values":[-15,-10,-5,0,5,10,15,20,25,30,35,40,45,50,55,60,65,70,75,80,85,90,95,100,105],"labels":false,"title":null,"tickSize":-12.5}}}},
{"mark":{"type":"point","opacity":0},"encoding":{"x":{"field":"x","type":"ordinal","sort":["Oct","Nov","Dec","Jan","Feb","Mar","Apr","May","Jun"],"axis":null},"y":{"field":"y","type":"quantitative","axis":{"orient":"right","values":[-15,-10,-5,0,5,10,15,20,25,30,35,40,45,50,55,60,65,70,75,80,85,90,95,100,105],"labels":false,"title":null,"tickSize":-12.5}}}},
{"mark":{"type":"line","strokeWidth":5},"encoding":{
"x":{"field":"x","type":"ordinal","sort":["Oct","Nov","Dec","Jan","Feb","Mar","Apr","May","Jun"],"scale":{"type":"point","padding":0,"domain":["Oct","Nov","Dec","Jan","Feb","Mar","Apr","May","Jun"]},"axis":{"orient":"bottom","title":null,"labelAngle":0,"labelAlign":"center","labelBaseline":"top","tickSize":-21,"labelPadding":44}},
"y":{"field":"y","type":"quantitative","scale":{"domain":[-17,110],"nice":false,"zero":false},"axis":{"orient":"left","values":[0,20,40,60,80,100],"format":"d","tickSize":-26,"labelPadding":51,"title":"Snow water equivalent (mm)","titleX":-112.6}},
"color":{"field":"l","type":"nominal","scale":{"domain":["Apr","Mar","Feb","Jan","Dec","Nov","Oct"],"range":["#00FFFF","#A020F0","#00FF00","#000000","#FFA500","#FF0000","#0000FF"]}}}},
{"mark":{"type":"point","filled":true,"size":150,"opacity":1},"encoding":{
"x":{"field":"x","type":"ordinal","sort":["Oct","Nov","Dec","Jan","Feb","Mar","Apr","May","Jun"],"axis":{"orient":"top","title":null,"labels":false,"tickSize":-21}},
"y":{"field":"y","type":"quantitative","axis":{"orient":"right","values":[0,20,40,60,80,100],"labels":false,"title":null,"tickSize":-26}},
"color":{"field":"l","type":"nominal","scale":{"domain":["Apr","Mar","Feb","Jan","Dec","Nov","Oct"],"range":["#00FFFF","#A020F0","#00FF00","#000000","#FFA500","#FF0000","#0000FF"]}}}}
],"resolve":{"axis":{"x":"independent","y":"independent"}}},
{"width":733.5,"height":586.8,"data":{"name":"ECCC_t2m"},"title":{"text":"ECCC – ERA5","offset":28.5},
"layer":[
{"mark":{"type":"rule","color":"#808080","strokeWidth":1.5},"encoding":{"y":{"datum":0,"type":"quantitative","axis":null}}},
{"mark":{"type":"point","opacity":0},"encoding":{"x":{"field":"x","type":"ordinal","sort":["Oct","Nov","Dec","Jan","Feb","Mar","Apr","May","Jun"],"axis":null},"y":{"field":"y","type":"quantitative","axis":{"orient":"left","values":[-5,-4.5,-4,-3.5,-3,-2.5,-2,-1.5,-1,-0.5,0,0.5,1,1.5,2,2.5,3,3.5,4,4.5,5,5.5,6],"labels":false,"title":null,"tickSize":-12.5}}}},
{"mark":{"type":"point","opacity":0},"encoding":{"x":{"field":"x","type":"ordinal","sort":["Oct","Nov","Dec","Jan","Feb","Mar","Apr","May","Jun"],"axis":null},"y":{"field":"y","type":"quantitative","axis":{"orient":"right","values":[-5,-4.5,-4,-3.5,-3,-2.5,-2,-1.5,-1,-0.5,0,0.5,1,1.5,2,2.5,3,3.5,4,4.5,5,5.5,6],"labels":false,"title":null,"tickSize":-12.5}}}},
{"mark":{"type":"line","strokeWidth":5},"encoding":{
"x":{"field":"x","type":"ordinal","sort":["Oct","Nov","Dec","Jan","Feb","Mar","Apr","May","Jun"],"scale":{"type":"point","padding":0,"domain":["Oct","Nov","Dec","Jan","Feb","Mar","Apr","May","Jun"]},"axis":{"orient":"bottom","title":null,"labelAngle":0,"labelAlign":"center","labelBaseline":"top","tickSize":-21,"labelPadding":44}},
"y":{"field":"y","type":"quantitative","scale":{"domain":[-5.5,6],"nice":false,"zero":false},"axis":{"orient":"left","values":[-4,-2,0,2,4,6],"format":".1f","tickSize":-26,"labelPadding":50,"title":"2 metre temperature (K)","titleX":-122.5}},
"color":{"field":"l","type":"nominal","scale":{"domain":["Apr","Mar","Feb","Jan","Dec","Nov","Oct"],"range":["#00FFFF","#A020F0","#00FF00","#000000","#FFA500","#FF0000","#0000FF"]}}}},
{"mark":{"type":"point","filled":true,"size":150,"opacity":1},"encoding":{
"x":{"field":"x","type":"ordinal","sort":["Oct","Nov","Dec","Jan","Feb","Mar","Apr","May","Jun"],"axis":{"orient":"top","title":null,"labels":false,"tickSize":-21}},
"y":{"field":"y","type":"quantitative","axis":{"orient":"right","values":[-4,-2,0,2,4,6],"labels":false,"title":null,"tickSize":-26}},
"color":{"field":"l","type":"nominal","scale":{"domain":["Apr","Mar","Feb","Jan","Dec","Nov","Oct"],"range":["#00FFFF","#A020F0","#00FF00","#000000","#FFA500","#FF0000","#0000FF"]}}}}
],"resolve":{"axis":{"x":"independent","y":"independent"}}},
{"width":756,"height":604.5,"data":{"name":"ECCC_pr"},"title":{"text":"ECCC – ERA5","offset":25},
"layer":[
{"mark":{"type":"rule","color":"#808080","strokeWidth":1.5},"encoding":{"y":{"datum":0,"type":"quantitative","axis":null}}},
{"mark":{"type":"point","opacity":0},"encoding":{"x":{"field":"x","type":"ordinal","sort":["Oct","Nov","Dec","Jan","Feb","Mar","Apr","May","Jun"],"axis":null},"y":{"field":"y","type":"quantitative","axis":{"orient":"left","values":[-6,-5,-4,-3,-2,-1,0,1,2,3,4,5,6,7,8,9,10,11,12,13,14,15,16,17,18,19,20,21,22,23],"labels":false,"title":null,"tickSize":-12.5}}}},
{"mark":{"type":"point","opacity":0},"encoding":{"x":{"field":"x","type":"ordinal","sort":["Oct","Nov","Dec","Jan","Feb","Mar","Apr","May","Jun"],"axis":null},"y":{"field":"y","type":"quantitative","axis":{"orient":"right","values":[-6,-5,-4,-3,-2,-1,0,1,2,3,4,5,6,7,8,9,10,11,12,13,14,15,16,17,18,19,20,21,22,23],"labels":false,"title":null,"tickSize":-12.5}}}},
{"mark":{"type":"line","strokeWidth":5},"encoding":{
"x":{"field":"x","type":"ordinal","sort":["Oct","Nov","Dec","Jan","Feb","Mar","Apr","May","Jun"],"scale":{"type":"point","padding":0,"domain":["Oct","Nov","Dec","Jan","Feb","Mar","Apr","May","Jun"]},"axis":{"orient":"bottom","title":null,"labelAngle":0,"labelAlign":"center","labelBaseline":"top","tickSize":-21,"labelPadding":44}},
"y":{"field":"y","type":"quantitative","scale":{"domain":[-7,24],"nice":false,"zero":false},"axis":{"orient":"left","values":[-5,0,5,10,15,20],"format":"d","tickSize":-26,"labelPadding":51,"title":"Total precipitation (mm)","titleX":-98.8}},
"color":{"field":"l","type":"nominal","scale":{"domain":["Apr","Mar","Feb","Jan","Dec","Nov","Oct"],"range":["#00FFFF","#A020F0","#00FF00","#000000","#FFA500","#FF0000","#0000FF"]}}}},
{"mark":{"type":"point","filled":true,"size":150,"opacity":1},"encoding":{
"x":{"field":"x","type":"ordinal","sort":["Oct","Nov","Dec","Jan","Feb","Mar","Apr","May","Jun"],"axis":{"orient":"top","title":null,"labels":false,"tickSize":-21}},
"y":{"field":"y","type":"quantitative","axis":{"orient":"right","values":[-5,0,5,10,15,20],"labels":false,"title":null,"tickSize":-26}},
"color":{"field":"l","type":"nominal","scale":{"domain":["Apr","Mar","Feb","Jan","Dec","Nov","Oct"],"range":["#00FFFF","#A020F0","#00FF00","#000000","#FFA500","#FF0000","#0000FF"]}}}}
],"resolve":{"axis":{"x":"independent","y":"independent"}}}
],
"config":{
"font":"Liberation Sans",
"view":{"stroke":"black","strokeWidth":2},
"title":{"fontSize":42,"fontWeight":"normal","color":"black","anchor":"middle","frame":"group","baseline":"alphabetic","font":"Liberation Sans"},
"axis":{"domain":false,"grid":false,"tickColor":"black","tickWidth":2,"labelFont":"Liberation Sans","labelFontSize":35,"labelColor":"black","labelOverlap":false,"labelFlush":false,"labelBound":false,"titleFont":"Liberation Sans","titleFontSize":45,"titleFontWeight":"normal","titleColor":"black"},
"legend":{"labelFont":"Liberation Sans","labelColor":"black"}
}
}
